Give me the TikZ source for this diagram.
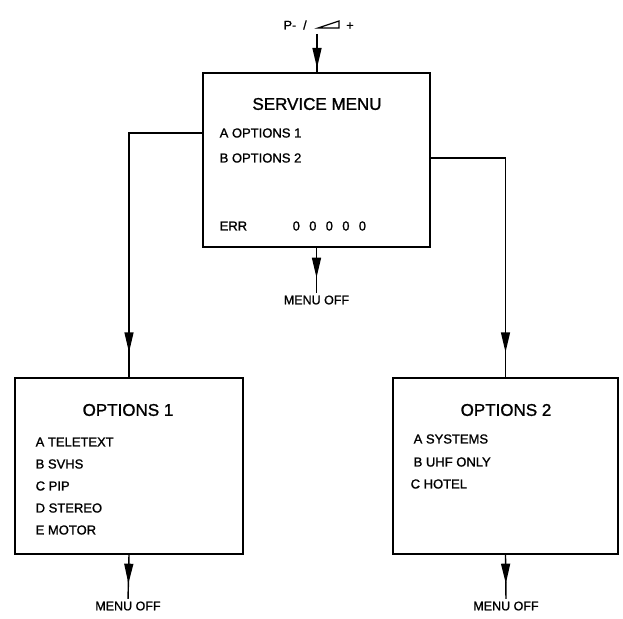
\documentclass[tikz,border=0pt]{standalone}
\usepackage{fontspec}
\setmainfont[FakeBold=1.2]{Liberation Sans}
\usetikzlibrary{arrows.meta,decorations.markings}
\begin{document}
\begin{tikzpicture}[x=1pt,y=-1pt,line width=1.4pt,
  box/.style={draw,rectangle,inner sep=0pt},
  item/.style={anchor=west,inner sep=0pt,font=\fontsize{13}{15}\selectfont},
  title/.style={inner sep=0pt,font=\fontsize{17}{20}\selectfont},
  lbl/.style={inner sep=0pt,font=\fontsize{12.5}{14}\selectfont},
  tipat/.style={postaction={decorate},decoration={markings,mark=at position #1 with {\arrow{Triangle[length=20pt,width=9pt]}}}}]
\useasboundingbox (0,0) rectangle (623,618);

% boxes
\node[box,minimum width=227pt,minimum height=174pt] (svc) at (316.5,160) {};
\node[box,minimum width=228pt,minimum height=176pt] (opt1) at (129,466) {};
\node[box,minimum width=225pt,minimum height=176pt] (opt2) at (505.5,466) {};

% service menu texts
\node[title] (svct) at (317,104) {SERVICE MENU};
\node[item] (sa) at (219,133) {A OPTIONS 1};
\node[item] (sb) at (219,158) {B OPTIONS 2};
\node[item] (err) at (219,226) {ERR};
\node[item] (zeros) at (292,226) {0\hspace{9.3pt}0\hspace{9.3pt}0\hspace{9.3pt}0\hspace{9.3pt}0};

% options 1 texts
\node[title] (o1t) at (128,410) {OPTIONS 1};
\node[item] (o1a) at (35,442) {A TELETEXT};
\node[item] (o1b) at (35,464) {B SVHS};
\node[item] (o1c) at (35,486) {C PIP};
\node[item] (o1d) at (35,508) {D STEREO};
\node[item] (o1e) at (35,530) {E MOTOR};

% options 2 texts
\node[title] (o2t) at (506,410) {OPTIONS 2};
\node[item] (o2a) at (413,439) {A SYSTEMS};
\node[item] (o2b) at (413,462) {B UHF ONLY};
\node[item] (o2c) at (410,484) {C HOTEL};

% labels
\node[lbl,anchor=west] (pm) at (283,25) {P-\hspace{7pt}/};
\node[lbl] (plus) at (350,26) {+};
\draw[line width=1.2pt] (318,28) -- (339,28) -- (339,21) -- cycle;
\coordinate (topin) at (317,34);
\node[lbl] (m0) at (316.5,300) {MENU OFF};
\node[lbl] (m1) at (128,606) {MENU OFF};
\node[lbl] (m2) at (506,606) {MENU OFF};

% connectors
\draw[tipat=34pt] (topin) -- (topin |- svc.north);
\draw[tipat=30pt,shorten >=2pt] (svc.south) -- (m0.north);
\draw[tipat=-25pt] (sa.west -| svc.west) -| (opt1.north);
\draw[tipat=-25pt] (sb.west -| svc.east) -| (opt2.north);
\draw[tipat=29pt,shorten >=2pt] (opt1.south) -- (m1.north);
\draw[tipat=29pt,shorten >=2pt] (opt2.south) -- (m2.north);
\end{tikzpicture}
\end{document}
